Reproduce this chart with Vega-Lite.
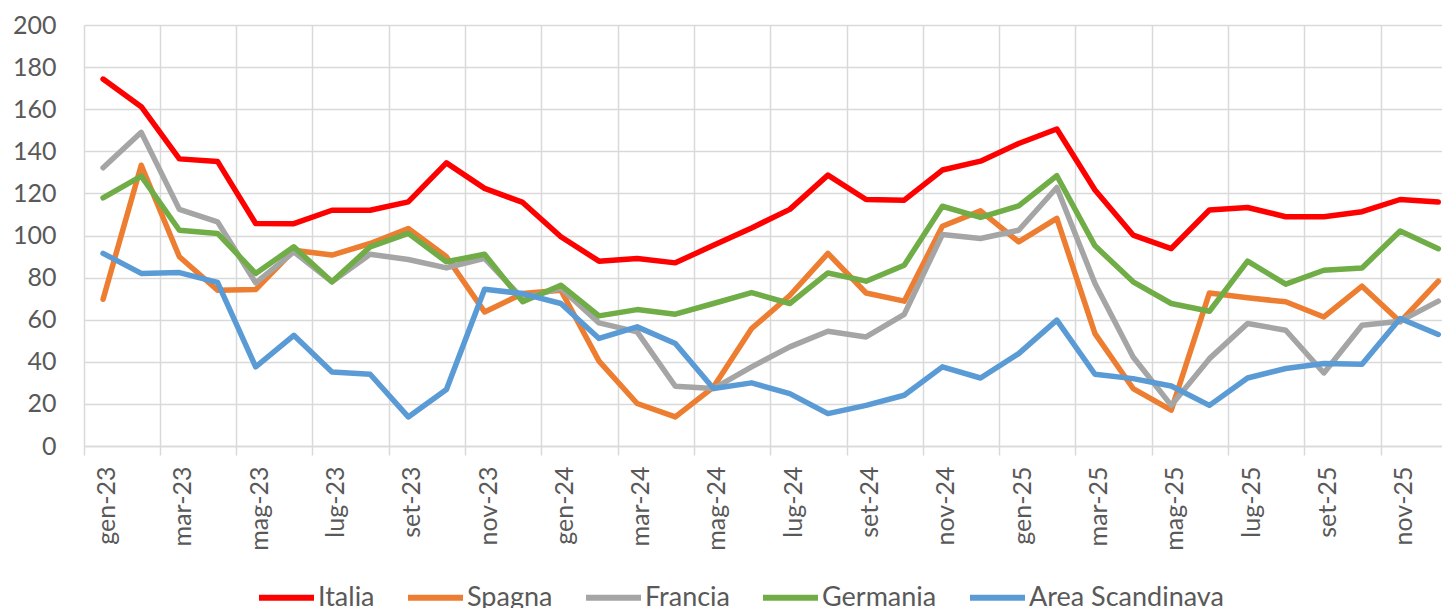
{
  "$schema": "https://vega.github.io/schema/vega-lite/v6.json",
  "width": 1358,
  "height": 421,
  "autosize": {"type": "none"},
  "padding": {"left": 84, "top": 25, "right": 0, "bottom": 162},
  "background": "white",
  "config": {"view": {"stroke": null}, "font": "Lato"},
  "data": {"values": [
    {"m": "gen-23", "Italia": 174.3, "Spagna": 69.7, "Francia": 132.2, "Germania": 117.9, "Area Scandinava": 91.5},
    {"m": "feb-23", "Italia": 161.2, "Spagna": 133.4, "Francia": 149.0, "Germania": 128.2, "Area Scandinava": 82.0},
    {"m": "mar-23", "Italia": 136.4, "Spagna": 89.9, "Francia": 112.4, "Germania": 102.5, "Area Scandinava": 82.4},
    {"m": "apr-23", "Italia": 135.2, "Spagna": 74.0, "Francia": 106.5, "Germania": 101.0, "Area Scandinava": 77.7},
    {"m": "mag-23", "Italia": 105.7, "Spagna": 74.3, "Francia": 77.5, "Germania": 82.0, "Area Scandinava": 37.6},
    {"m": "giu-23", "Italia": 105.6, "Spagna": 93.0, "Francia": 92.2, "Germania": 94.6, "Area Scandinava": 52.6},
    {"m": "lug-23", "Italia": 112.0, "Spagna": 90.7, "Francia": 78.0, "Germania": 78.0, "Area Scandinava": 35.2},
    {"m": "ago-23", "Italia": 112.0, "Spagna": 96.2, "Francia": 91.1, "Germania": 94.6, "Area Scandinava": 34.1},
    {"m": "set-23", "Italia": 116.0, "Spagna": 103.3, "Francia": 88.6, "Germania": 101.0, "Area Scandinava": 13.8},
    {"m": "ott-23", "Italia": 134.5, "Spagna": 89.9, "Francia": 84.6, "Germania": 87.5, "Area Scandinava": 26.8},
    {"m": "nov-23", "Italia": 122.4, "Spagna": 63.7, "Francia": 89.1, "Germania": 91.1, "Area Scandinava": 74.5},
    {"m": "dic-23", "Italia": 115.7, "Spagna": 72.4, "Francia": 70.0, "Germania": 68.5, "Area Scandinava": 72.4},
    {"m": "gen-24", "Italia": 99.4, "Spagna": 74.0, "Francia": 75.0, "Germania": 76.4, "Area Scandinava": 67.7},
    {"m": "feb-24", "Italia": 87.8, "Spagna": 40.3, "Francia": 58.5, "Germania": 61.8, "Area Scandinava": 51.1},
    {"m": "mar-24", "Italia": 89.1, "Spagna": 20.2, "Francia": 54.2, "Germania": 64.8, "Area Scandinava": 56.6},
    {"m": "apr-24", "Italia": 87.0, "Spagna": 13.8, "Francia": 28.4, "Germania": 62.6, "Area Scandinava": 48.7},
    {"m": "mag-24", "Italia": 95.4, "Spagna": 28.0, "Francia": 27.3, "Germania": 67.7, "Area Scandinava": 27.3},
    {"m": "giu-24", "Italia": 103.6, "Spagna": 55.8, "Francia": 37.6, "Germania": 72.9, "Area Scandinava": 30.0},
    {"m": "lug-24", "Italia": 112.4, "Spagna": 71.5, "Francia": 47.1, "Germania": 67.7, "Area Scandinava": 24.9},
    {"m": "ago-24", "Italia": 128.7, "Spagna": 91.5, "Francia": 54.5, "Germania": 82.2, "Area Scandinava": 15.4},
    {"m": "set-24", "Italia": 117.1, "Spagna": 72.7, "Francia": 51.8, "Germania": 78.3, "Area Scandinava": 19.3},
    {"m": "ott-24", "Italia": 116.8, "Spagna": 68.8, "Francia": 62.5, "Germania": 85.9, "Area Scandinava": 24.1},
    {"m": "nov-24", "Italia": 131.1, "Spagna": 104.4, "Francia": 100.5, "Germania": 113.9, "Area Scandinava": 37.6},
    {"m": "dic-24", "Italia": 135.3, "Spagna": 111.7, "Francia": 98.6, "Germania": 108.6, "Area Scandinava": 32.3},
    {"m": "gen-25", "Italia": 143.7, "Spagna": 97.0, "Francia": 102.5, "Germania": 114.1, "Area Scandinava": 43.9},
    {"m": "feb-25", "Italia": 150.6, "Spagna": 108.1, "Francia": 122.8, "Germania": 128.4, "Area Scandinava": 59.8},
    {"m": "mar-25", "Italia": 121.6, "Spagna": 53.4, "Francia": 77.2, "Germania": 95.1, "Area Scandinava": 34.1},
    {"m": "apr-25", "Italia": 100.2, "Spagna": 27.3, "Francia": 42.3, "Germania": 78.0, "Area Scandinava": 32.0},
    {"m": "mag-25", "Italia": 93.8, "Spagna": 17.0, "Francia": 19.3, "Germania": 67.7, "Area Scandinava": 28.5},
    {"m": "giu-25", "Italia": 112.1, "Spagna": 72.7, "Francia": 41.5, "Germania": 64.0, "Area Scandinava": 19.3},
    {"m": "lug-25", "Italia": 113.3, "Spagna": 70.4, "Francia": 58.2, "Germania": 87.8, "Area Scandinava": 32.3},
    {"m": "ago-25", "Italia": 108.9, "Spagna": 68.5, "Francia": 55.0, "Germania": 76.9, "Area Scandinava": 36.8},
    {"m": "set-25", "Italia": 108.9, "Spagna": 61.3, "Francia": 34.7, "Germania": 83.5, "Area Scandinava": 39.2},
    {"m": "ott-25", "Italia": 111.3, "Spagna": 75.9, "Francia": 57.4, "Germania": 84.6, "Area Scandinava": 38.8},
    {"m": "nov-25", "Italia": 117.1, "Spagna": 59.0, "Francia": 59.3, "Germania": 102.1, "Area Scandinava": 60.6},
    {"m": "dic-25", "Italia": 115.9, "Spagna": 78.3, "Francia": 68.8, "Germania": 93.7, "Area Scandinava": 53.0}
  ]},
  "transform": [
    {"fold": ["Italia", "Spagna", "Francia", "Germania", "Area Scandinava"], "as": ["serie", "valore"]}
  ],
  "mark": {"type": "line", "strokeWidth": 5.5, "strokeCap": "round", "strokeJoin": "round"},
  "encoding": {
    "x": {
      "field": "m",
      "type": "ordinal",
      "scale": {
        "type": "band",
        "domain": ["gen-23","feb-23","mar-23","apr-23","mag-23","giu-23","lug-23","ago-23","set-23","ott-23","nov-23","dic-23","gen-24","feb-24","mar-24","apr-24","mag-24","giu-24","lug-24","ago-24","set-24","ott-24","nov-24","dic-24","gen-25","feb-25","mar-25","apr-25","mag-25","giu-25","lug-25","ago-25","set-25","ott-25","nov-25","dic-25"],
        "rangeMax": 1373.4,
        "paddingInner": 0,
        "paddingOuter": 0
      },
      "axis": {
        "title": null,
        "values": ["gen-23","mar-23","mag-23","lug-23","set-23","nov-23","gen-24","mar-24","mag-24","lug-24","set-24","nov-24","gen-25","mar-25","mag-25","lug-25","set-25","nov-25"],
        "bandPosition": 0,
        "labelAngle": -90,
        "labelAlign": "right",
        "labelBaseline": "middle",
        "labelOffset": 4,
        "labelPadding": 11,
        "labelFontSize": 25,
        "labelColor": "#595959",
        "tickSize": 9,
        "tickColor": "#d9d9d9",
        "tickWidth": 1.5,
        "domainColor": "#d9d9d9",
        "domainWidth": 1.5,
        "grid": true,
        "gridColor": "#d9d9d9",
        "gridWidth": 1.5
      }
    },
    "y": {
      "field": "valore",
      "type": "quantitative",
      "scale": {"domain": [0, 200], "nice": false, "zero": true},
      "axis": {
        "title": null,
        "values": [0, 20, 40, 60, 80, 100, 120, 140, 160, 180, 200],
        "domain": false,
        "ticks": false,
        "tickSize": 0,
        "labelPadding": 28,
        "labelFontSize": 25,
        "labelColor": "#595959",
        "grid": true,
        "gridColor": "#d9d9d9",
        "gridWidth": 1.5
      }
    },
    "color": {
      "field": "serie",
      "type": "nominal",
      "scale": {
        "domain": ["Italia", "Spagna", "Francia", "Germania", "Area Scandinava"],
        "range": ["#FF0000", "#ED7D31", "#A5A5A5", "#70AD47", "#5B9BD5"]
      },
      "legend": {
        "title": null,
        "orient": "none",
        "direction": "horizontal",
        "columns": 5,
        "legendX": 172,
        "legendY": 542,
        "symbolType": "stroke",
        "symbolSize": 3025,
        "symbolStrokeWidth": 6,
        "labelFontSize": 27,
        "labelLimit": 400,
        "labelColor": "#595959",
        "labelOffset": 1,
        "columnPadding": 21
      }
    }
  }
}
